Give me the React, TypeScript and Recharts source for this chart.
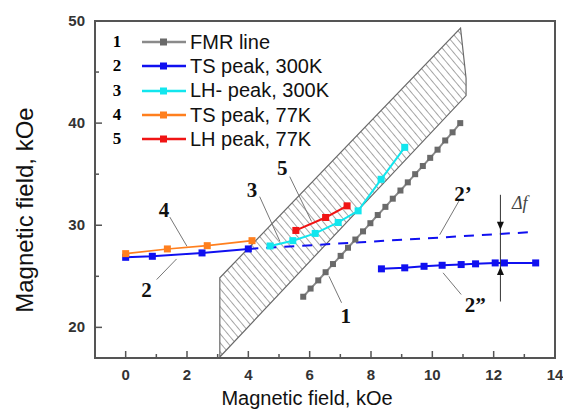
import React from "react";
import {
  ComposedChart,
  Line,
  Area,
  XAxis,
  YAxis,
  ReferenceLine,
  ReferenceDot,
  ReferenceArea,
  Legend,
  Label,
} from "recharts";

// FMR line (1)
const fmrX = [5.79, 6.03, 6.28, 6.52, 6.76, 7.01, 7.25, 7.49, 7.74, 7.98, 8.22, 8.47, 8.71, 8.96, 9.2, 9.44, 9.69, 9.93, 10.17, 10.42, 10.66, 10.91];
const fmrY = [23.0, 23.8, 24.6, 25.4, 26.2, 27.0, 27.8, 28.6, 29.4, 30.2, 31.0, 31.8, 32.6, 33.4, 34.2, 35.0, 35.8, 36.6, 37.4, 38.3, 39.1, 40.0];

// TS peak 300K (2), its extension (2') and second branch (2")
const ts300X = [0, 0.87, 2.49, 4.0];
const ts300Y = [26.86, 26.96, 27.29, 27.68];
const ts300ExtX = [4.0, 13.28];
const ts300ExtY = [27.68, 29.34];
const ts300bX = [8.34, 9.1, 9.73, 10.32, 10.94, 11.41, 12.05, 12.35, 13.37];
const ts300bY = [25.73, 25.83, 25.98, 26.08, 26.15, 26.22, 26.31, 26.31, 26.31];

// LH- peak 300K (3)
const lh300X = [4.71, 5.45, 6.18, 6.93, 7.58, 8.33, 9.1];
const lh300Y = [27.97, 28.49, 29.2, 30.27, 31.41, 34.5, 37.63];

// TS peak 77K (4)
const ts77X = [0, 1.36, 2.66, 4.12];
const ts77Y = [27.22, 27.68, 28.0, 28.49];

// LH peak 77K (5)
const lh77X = [5.55, 6.52, 7.22];
const lh77Y = [29.49, 30.76, 31.9];

// hatched band
const bandX = [3.07, 10.92, 11.1];
const bandLow = [17.1, 42.1, 42.7];
const bandHigh = [24.85, 49.3, 44.4];
const bandOutlineX = [3.07, 3.07, 10.92, 11.1, 11.1, 3.07];
const bandOutlineY = [17.1, 24.85, 49.3, 44.4, 42.7, 17.1];

const xTicks = [0, 1, 2, 3, 4, 5, 6, 7, 8, 9, 10, 11, 12, 13, 14];
const yTicks = [20, 25, 30, 35, 40, 45, 50];

const legendNums = ["1", "2", "3", "4", "5"];
const legendNames = ["FMR line", "TS peak, 300K", "LH- peak, 300K", "TS peak, 77K", "LH peak, 77K"];

// annotation labels and leader lines (data units)
const annoText = ["1", "2", "3", "4", "5", "2\u2019", "2\u201D"];
const annoX = [7.18, 0.68, 4.12, 1.25, 5.11, 11.0, 11.4];
const annoY = [21.1, 23.7, 33.5, 31.45, 35.6, 33.1, 22.2];
const leaderFrom = [[7.04, 22.41], [1.01, 24.68], [4.37, 32.8], [1.44, 30.8], [5.35, 34.76], [10.89, 32.49], [10.94, 23.22]];
const leaderTo = [[6.63, 25.0], [1.66, 26.7], [5.03, 28.42], [2.0, 27.93], [6.06, 30.37], [10.24, 29.07], [10.35, 25.34]];

const dfX = 12.22;
const dfTop = 32.98;
const dfBottom = 22.53;
const dfArrowDown = 29.55;
const dfArrowUp = 25.92;

const GRAY = "#8a8a8a";
const GRAY_M = "#6a6a6a";
const BLUE = "#1010f0";
const CYAN = "#12e6ee";
const ORANGE = "#ff7f1e";
const RED = "#f01414";

const pts = (xs: number[], ys: number[]) => xs.map((x, i) => ({ x, y: ys[i] }));

const square = (fill: string, size: number) => (props: any) => {
  const { cx, cy, index } = props;
  if (cx == null || cy == null) return <g key={index} />;
  return <rect key={index} x={cx - size / 2} y={cy - size / 2} width={size} height={size} fill={fill} />;
};

const legendColors = [GRAY, BLUE, CYAN, ORANGE, RED];
const legendMarkers = [GRAY_M, BLUE, CYAN, ORANGE, RED];

const renderLegend = () => (
  <div>
    {legendNames.map((name, i) => (
      <div key={name} style={{ display: "flex", alignItems: "center", height: 24.3 }}>
        <span style={{ width: 24, textAlign: "center", fontFamily: "Liberation Serif", fontWeight: "bold", fontSize: 17 }}>
          {legendNums[i]}
        </span>
        <svg width={44} height={12} style={{ marginLeft: 13 }}>
          <line x1={0} y1={6} x2={44} y2={6} stroke={legendColors[i]} strokeWidth={2.5} />
          <rect x={18} y={2.5} width={7} height={7} fill={legendMarkers[i]} />
        </svg>
        <span style={{ marginLeft: 4, fontFamily: "Arial, Liberation Sans", fontSize: 20, color: "#111", whiteSpace: "nowrap" }}>
          {name}
        </span>
      </div>
    ))}
  </div>
);

const XTick = (props: any) => {
  const { x, y, payload } = props;
  const major = payload.value % 2 === 0;
  return (
    <g>
      <line x1={x} y1={y} x2={x} y2={y - (major ? 7 : 4)} stroke="#555" strokeWidth={1.5} />
      {major && (
        <text x={x} y={y + 22} textAnchor="middle" fontFamily="Arial, Liberation Sans" fontWeight="bold" fontSize={15} fill="#333">
          {payload.value}
        </text>
      )}
    </g>
  );
};

const YTick = (props: any) => {
  const { x, y, payload } = props;
  const major = payload.value % 10 === 0;
  return (
    <g>
      <line x1={x} y1={y} x2={x + (major ? 7 : 4)} y2={y} stroke="#555" strokeWidth={1.5} />
      {major && (
        <text x={x - 10} y={y + 5} textAnchor="end" fontFamily="Arial, Liberation Sans" fontWeight="bold" fontSize={15} fill="#333">
          {payload.value}
        </text>
      )}
    </g>
  );
};

const textShape = (t: string) => (props: any) => (
  <text x={props.cx} y={props.cy + 7} textAnchor="middle" fontFamily="Liberation Serif" fontWeight="bold" fontSize={21} fill="#111">
    {t}
  </text>
);

const arrowShape = (dir: number) => (props: any) => {
  const { cx, cy } = props;
  return <path d={`M${cx},${cy} L${cx - 3.5},${cy - dir * 8} L${cx + 3.5},${cy - dir * 8} Z`} fill="#111" />;
};

export default function App() {
  const bandData = bandX.map((x, i) => ({ x, band: [bandLow[i], bandHigh[i]] }));
  return (
    <div style={{ position: "absolute", left: 0, top: 0 }}>
      <ComposedChart width={563} height={410} margin={{ top: 21, right: 8, left: 0, bottom: 0 }}>
        <defs>
          <pattern id="hatch" width="5.8" height="5.8" patternUnits="userSpaceOnUse" patternTransform="rotate(-40)">
            <line x1="0" y1="0" x2="0" y2="5.8" stroke="#5e5e5e" strokeWidth="1.1" />
          </pattern>
        </defs>
        <XAxis
          type="number"
          dataKey="x"
          domain={[-1, 14]}
          ticks={xTicks}
          allowDataOverflow
          height={52}
          tickSize={0}
          tickMargin={0}
          tick={<XTick />}
          axisLine={{ stroke: "#555", strokeWidth: 2 }}
          interval={0}
        >
          <Label
            content={() => (
              <text x={307} y={405} textAnchor="middle" fontFamily="Arial, Liberation Sans" fontSize={20} fill="#111">
                Magnetic field, kOe
              </text>
            )}
          />
        </XAxis>
        <YAxis
          type="number"
          dataKey="y"
          domain={[17, 50]}
          ticks={yTicks}
          allowDataOverflow
          width={95}
          tickSize={0}
          tickMargin={0}
          tick={<YTick />}
          axisLine={{ stroke: "#555", strokeWidth: 2 }}
          interval={0}
        >
          <Label
            content={() => (
              <text x={33} y={210} transform="rotate(-90 33 210)" textAnchor="middle" fontFamily="Arial, Liberation Sans" fontSize={24} fill="#111">
                Magnetic field, kOe
              </text>
            )}
          />
        </YAxis>
        <ReferenceArea x1={-1} x2={14} y1={17} y2={50} fill="none" stroke="#555" strokeWidth={2} />

        <Area data={bandData} dataKey="band" type="linear" fill="url(#hatch)" fillOpacity={1} stroke="none" isAnimationActive={false} />
        <Line data={pts(bandOutlineX, bandOutlineY)} dataKey="y" type="linear" stroke="#6a6a6a" strokeWidth={1.2} dot={false} isAnimationActive={false} legendType="none" />

        {leaderFrom.map((f, i) => (
          <ReferenceLine key={"ld" + i} segment={[{ x: f[0], y: f[1] }, { x: leaderTo[i][0], y: leaderTo[i][1] }]} stroke="#777" strokeWidth={1} />
        ))}

        <Line data={pts(fmrX, fmrY)} dataKey="y" type="linear" stroke={GRAY} strokeWidth={2} dot={square(GRAY_M, 6)} isAnimationActive={false} />
        <Line data={pts(ts300ExtX, ts300ExtY)} dataKey="y" type="linear" stroke={BLUE} strokeWidth={2} strokeDasharray="10 8" dot={false} isAnimationActive={false} />
        <Line data={pts(ts300X, ts300Y)} dataKey="y" type="linear" stroke={BLUE} strokeWidth={2} dot={square(BLUE, 7)} isAnimationActive={false} />
        <Line data={pts(ts300bX, ts300bY)} dataKey="y" type="linear" stroke={BLUE} strokeWidth={2} dot={square(BLUE, 7)} isAnimationActive={false} />
        <Line data={pts(ts77X, ts77Y)} dataKey="y" type="linear" stroke={ORANGE} strokeWidth={1.6} dot={square(ORANGE, 7)} isAnimationActive={false} />
        <Line data={pts(lh300X, lh300Y)} dataKey="y" type="linear" stroke={CYAN} strokeWidth={2} dot={square(CYAN, 7)} isAnimationActive={false} />
        <Line data={pts(lh77X, lh77Y)} dataKey="y" type="linear" stroke={RED} strokeWidth={2} dot={square(RED, 7)} isAnimationActive={false} />

        <ReferenceLine segment={[{ x: dfX, y: dfTop }, { x: dfX, y: dfBottom }]} stroke="#333" strokeWidth={1} />
        <ReferenceDot x={dfX} y={dfArrowDown} r={0} shape={arrowShape(1)} />
        <ReferenceDot x={dfX} y={dfArrowUp} r={0} shape={arrowShape(-1)} />
        <ReferenceDot
          x={12.85}
          y={32.2}
          r={0}
          shape={(p: any) => (
            <text x={p.cx} y={p.cy + 6} textAnchor="middle" fontFamily="Liberation Serif" fontStyle="italic" fontSize={18} fill="#444">
              {"\u0394f"}
            </text>
          )}
        />
        {annoText.map((t, i) => (
          <ReferenceDot key={"an" + i} x={annoX[i]} y={annoY[i]} r={0} shape={textShape(t)} />
        ))}

        <Legend
          layout="vertical"
          align="center"
          verticalAlign="middle"
          wrapperStyle={{ left: 105, top: 30, width: 280 }}
          content={renderLegend}
        />
      </ComposedChart>
    </div>
  );
}
